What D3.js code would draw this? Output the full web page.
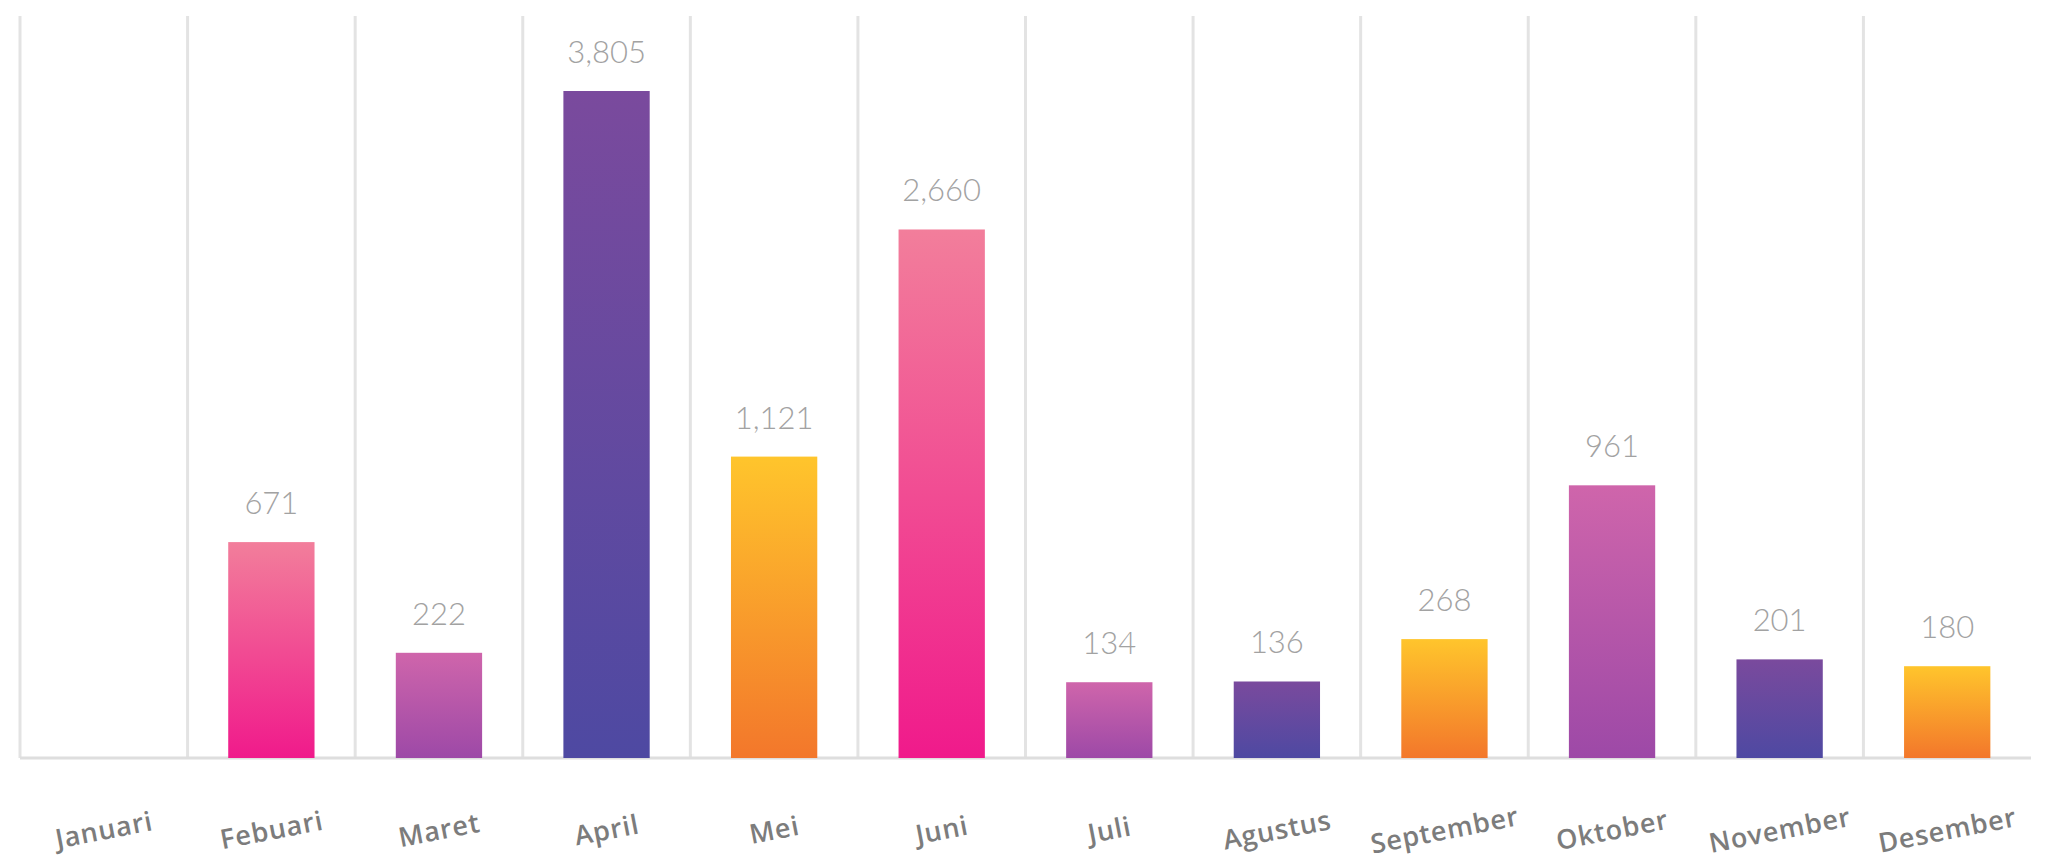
<!DOCTYPE html>
<html>
<head>
<meta charset="utf-8">
<script src="https://cdn.jsdelivr.net/npm/d3@7"></script>
<style>
  html, body { margin: 0; padding: 0; background: #ffffff; }
  svg { display: block; }
</style>
</head>
<body>
<svg id="chart" width="2068" height="861"></svg>
<script>
// Monthly totals (Januari has no entry)
const months = ["Januari", "Febuari", "Maret", "April", "Mei", "Juni", "Juli",
                "Agustus", "September", "Oktober", "November", "Desember"];
const values = [null, 671, 222, 3805, 1121, 2660, 134, 136, 268, 961, 201, 180];
const palette = [null, "pink", "magenta", "indigo", "orange", "pink", "magenta",
                 "indigo", "orange", "magenta", "indigo", "orange"];

// Gradient stops per colour family (top -> bottom)
const gradients = {
  pink:    ["#f27e9b", "#f01a8b"],
  magenta: ["#cf65ab", "#9d49a7"],
  indigo:  ["#7a4a9d", "#4e49a2"],
  orange:  ["#ffc52c", "#f3772b"]
};

const data = months.map((m, i) => ({ month: m, value: values[i], tone: palette[i] }));

const svg = d3.select("#chart");
const baseY = 758, topY = 91;

const x = d3.scaleBand()
  .domain(months)
  .range([20, 2031])
  .paddingInner(0)
  .paddingOuter(0);

const y = d3.scalePow()
  .exponent(0.65)
  .domain([0, d3.max(values)])
  .range([baseY, topY]);

// Gradient definitions
const defs = svg.append("defs");
Object.entries(gradients).forEach(([key, [c0, c1]]) => {
  const g = defs.append("linearGradient")
    .attr("id", "grad-" + key)
    .attr("x1", 0).attr("y1", 0).attr("x2", 0).attr("y2", 1);
  g.append("stop").attr("offset", "0%").attr("stop-color", c0);
  g.append("stop").attr("offset", "100%").attr("stop-color", c1);
});

// Vertical separators at each band's left edge
svg.append("g")
  .selectAll("line")
  .data(months)
  .join("line")
  .attr("x1", d => x(d)).attr("x2", d => x(d))
  .attr("y1", 16).attr("y2", baseY)
  .attr("stroke", "#e3e3e3")
  .attr("stroke-width", 3);

// Baseline
svg.append("line")
  .attr("x1", x.range()[0]).attr("x2", x.range()[1])
  .attr("y1", baseY).attr("y2", baseY)
  .attr("stroke", "#dedede")
  .attr("stroke-width", 3);

const barW = x.bandwidth() * 0.515;
const withValue = data.filter(d => d.value != null);

// Bars
svg.append("g")
  .selectAll("rect")
  .data(withValue)
  .join("rect")
  .attr("x", d => x(d.month) + (x.bandwidth() - barW) / 2)
  .attr("y", d => y(d.value))
  .attr("width", barW)
  .attr("height", d => baseY - y(d.value))
  .attr("fill", d => `url(#grad-${d.tone})`);

// Value labels
const fmt = d3.format(",");
svg.append("g")
  .selectAll("text")
  .data(withValue)
  .join("text")
  .attr("x", d => x(d.month) + x.bandwidth() / 2)
  .attr("y", d => y(d.value) - 28)
  .attr("text-anchor", "middle")
  .attr("font-family", "Lato, 'Open Sans', sans-serif")
  .attr("font-weight", 300)
  .attr("font-size", 31)
  .attr("fill", "#a2a2a2")
  .text(d => fmt(d.value));

// Month labels, tilted
svg.append("g")
  .selectAll("text")
  .data(months)
  .join("text")
  .attr("transform", d => `translate(${x(d) + x.bandwidth() / 2},${829}) rotate(-11)`)
  .attr("text-anchor", "middle")
  .attr("dominant-baseline", "central")
  .attr("font-family", "'Open Sans', Lato, sans-serif")
  .attr("font-weight", 600)
  .attr("font-size", 27)
  .attr("letter-spacing", 0.8)
  .attr("fill", "#7c7c7c")
  .text(d => d);
</script>
</body>
</html>
